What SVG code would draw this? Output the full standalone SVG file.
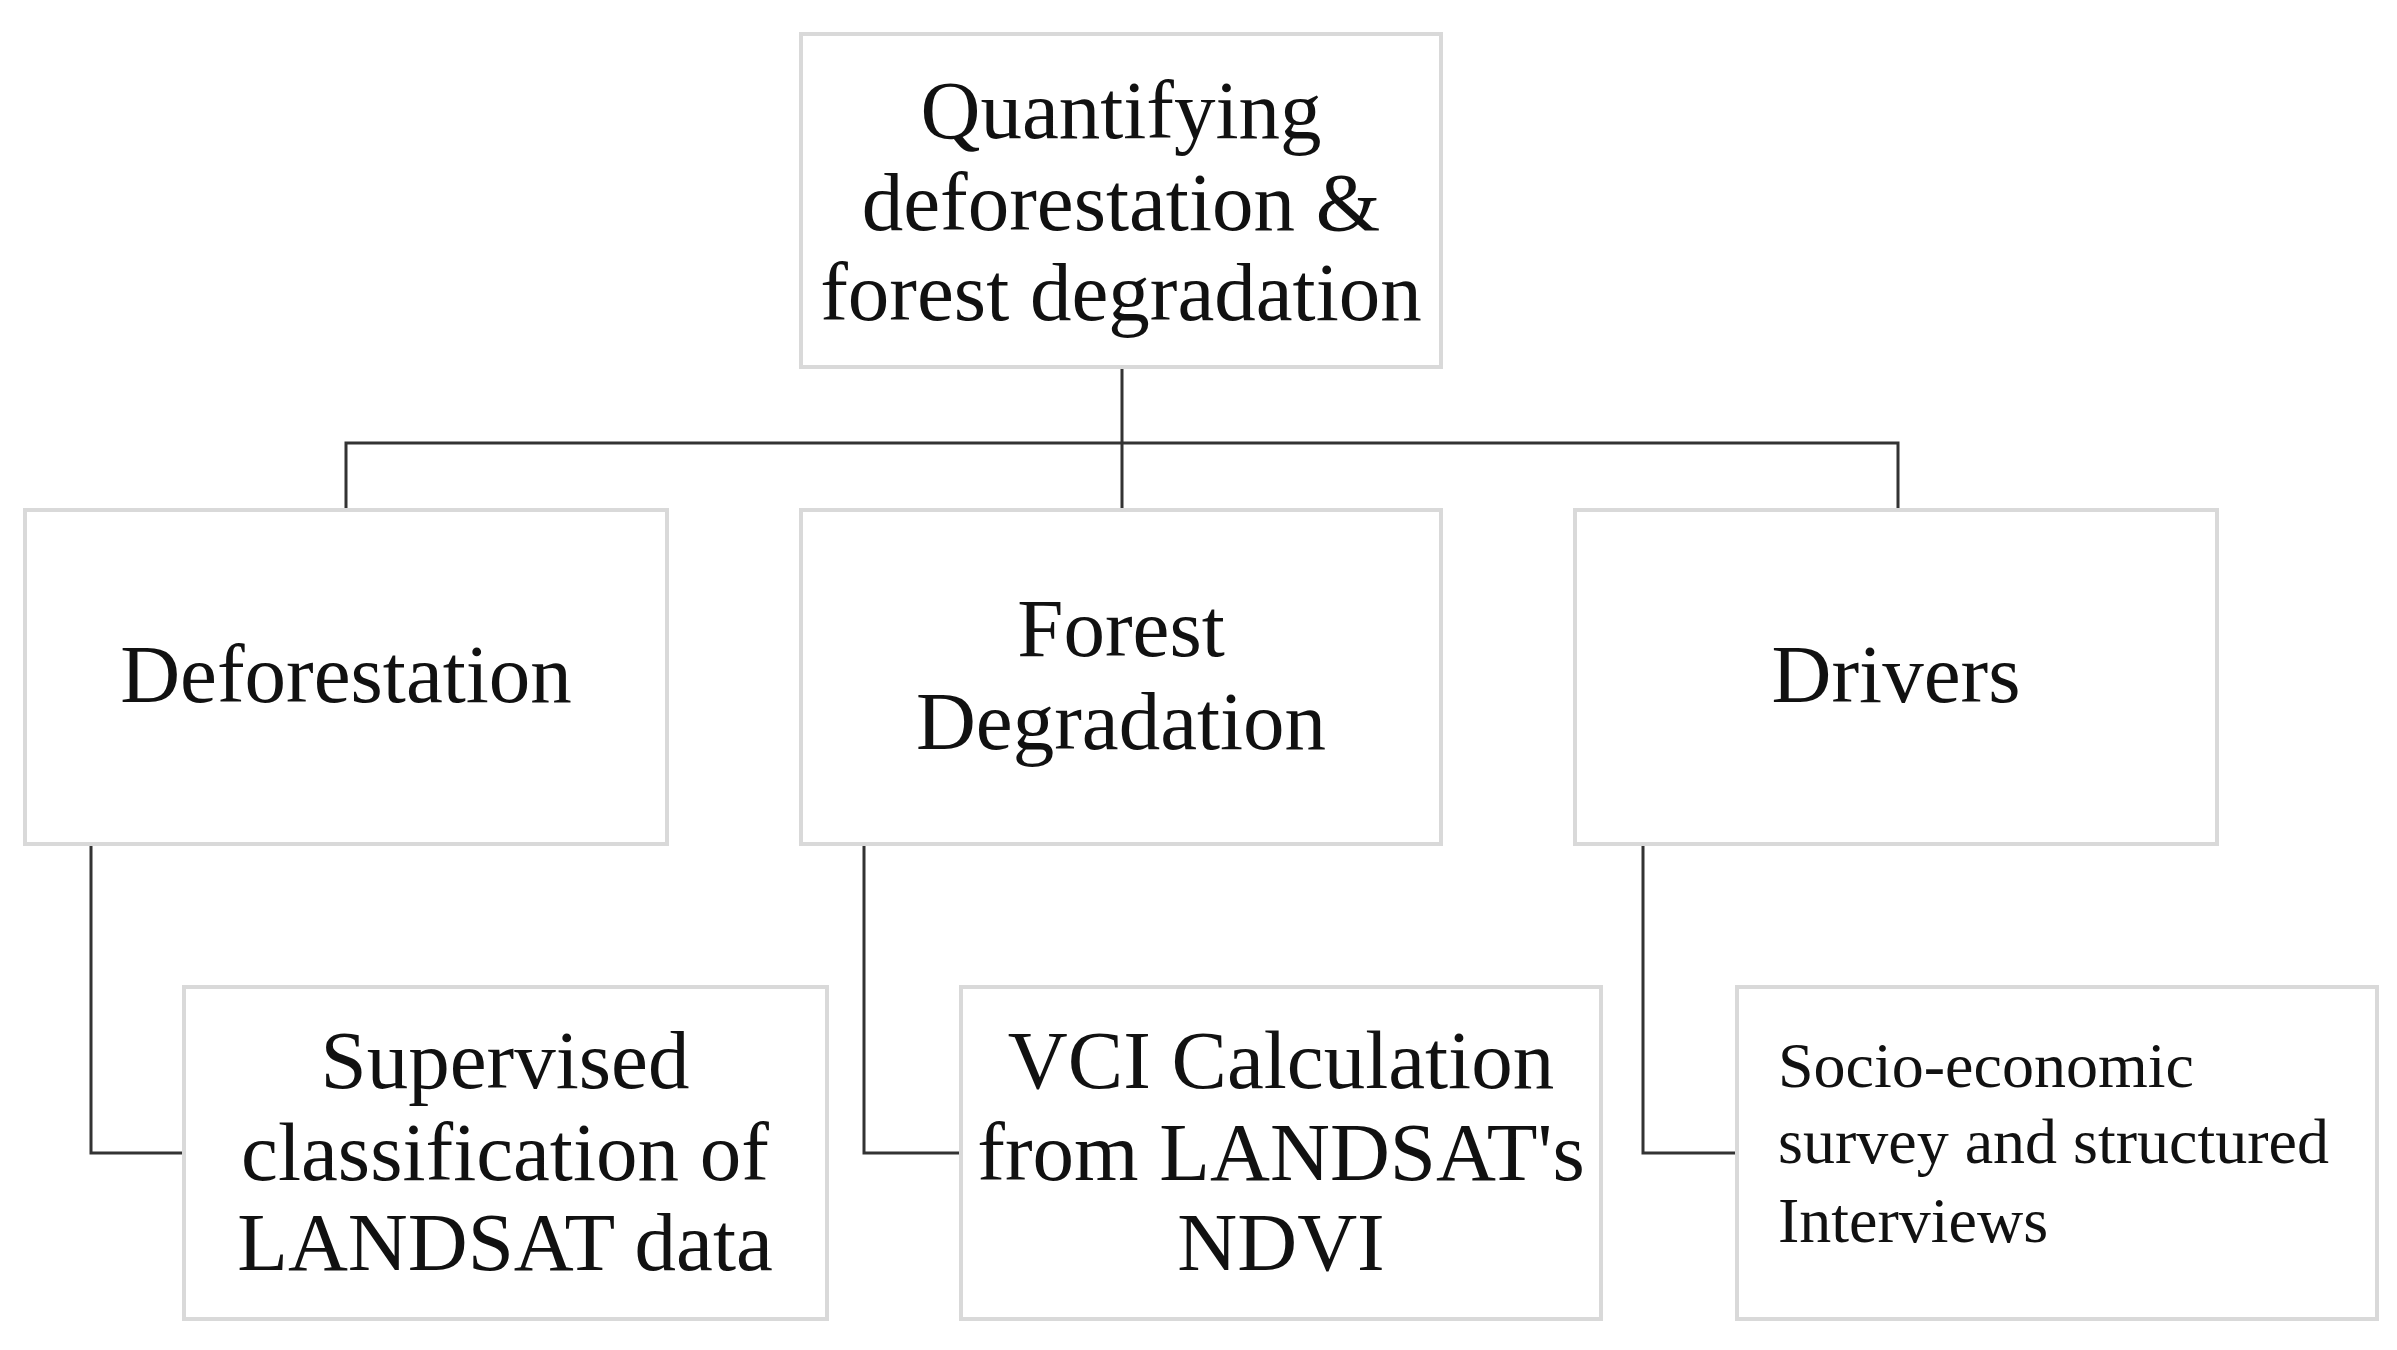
<svg xmlns="http://www.w3.org/2000/svg" width="2397" height="1350" viewBox="0 0 2397 1350">
<style>
.b{fill:#fff;stroke:#d9d9d9;stroke-width:4}
.t{font-family:"Liberation Serif","Times New Roman",serif;font-size:83px;fill:#111;text-anchor:middle}
.s{font-family:"Liberation Serif","Times New Roman",serif;font-size:64px;fill:#111}
.c{fill:none;stroke:#333;stroke-width:3}
</style>
<rect width="2397" height="1350" fill="#fff"/>
<g id="connectors">
<path class="c" d="M1122 367V510M346 510V443H1898V510"/>
<path class="c" d="M91 844V1153H184M864 844V1153H961M1643 844V1153H1737"/>
</g>
<g id="top"><rect class="b" x="801" y="34" width="640" height="333"/>
<text class="t" x="1121" y="138">Quantifying</text><text class="t" x="1121" y="230">deforestation &amp;</text><text class="t" x="1121" y="320">forest degradation</text></g>
<g id="deforestation"><rect class="b" x="25" y="510" width="642" height="334"/><text class="t" x="346" y="702">Deforestation</text></g>
<g id="forest-degradation"><rect class="b" x="801" y="510" width="640" height="334"/><text class="t" x="1121" y="656">Forest</text><text class="t" x="1121" y="749">Degradation</text></g>
<g id="drivers"><rect class="b" x="1575" y="510" width="642" height="334"/><text class="t" x="1896" y="702">Drivers</text></g>
<g id="supervised"><rect class="b" x="184" y="987" width="643" height="332"/><text class="t" x="505" y="1088">Supervised</text><text class="t" x="505" y="1180">classification of</text><text class="t" x="505" y="1270">LANDSAT data</text></g>
<g id="vci"><rect class="b" x="961" y="987" width="640" height="332"/><text class="t" x="1281" y="1088">VCI Calculation</text><text class="t" x="1281" y="1180">from LANDSAT's</text><text class="t" x="1281" y="1270">NDVI</text></g>
<g id="socio"><rect class="b" x="1737" y="987" width="640" height="332"/><text class="s" x="1778" y="1087">Socio-economic</text><text class="s" x="1778" y="1163">survey and structured</text><text class="s" x="1778" y="1242">Interviews</text></g>
</svg>
